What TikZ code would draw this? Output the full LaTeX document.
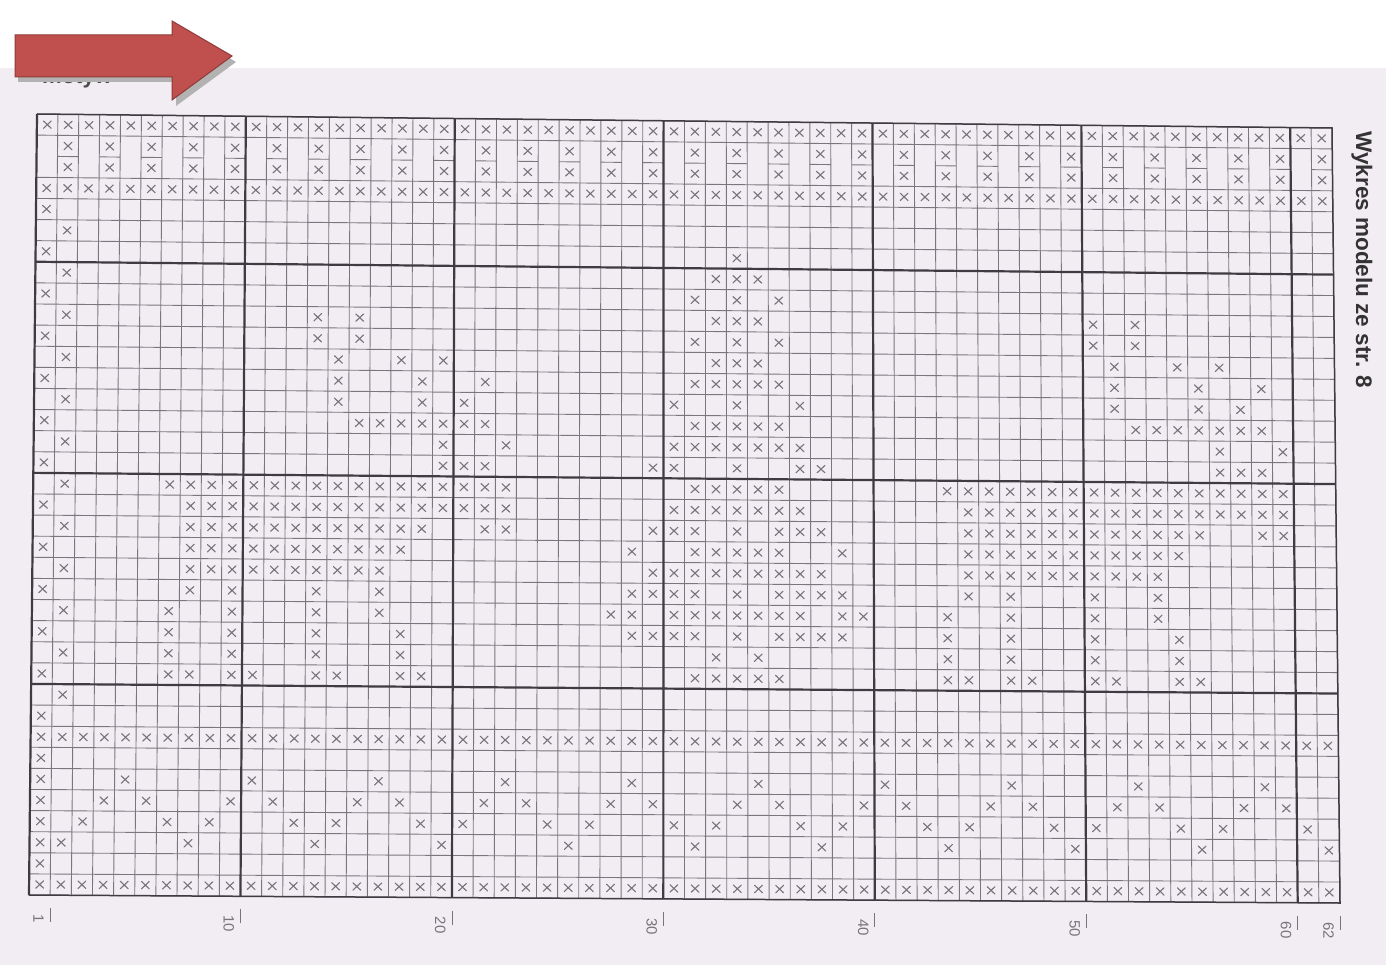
\documentclass[tikz,border=0pt]{standalone}
\usepackage{fontspec}
\setmainfont{Liberation Sans}
\definecolor{paper}{HTML}{F2EDF2}
\definecolor{gridc}{HTML}{7A767E}
\definecolor{thickc}{HTML}{3E3C42}
\definecolor{xc}{HTML}{77737C}
\definecolor{labc}{HTML}{77747B}
\definecolor{arrowred}{HTML}{C0504D}
\definecolor{arrowedge}{HTML}{8E3A38}
\def\TLx{37}\def\TLy{114}
\def\TRx{1332}\def\TRy{128}
\def\BLx{29}\def\BLy{895}
\def\BRx{1340}\def\BRy{903}
\newcommand\bil[2]{%
 \pgfmathsetmacro\bx{(1-(#2))*((1-(#1))*\TLx+(#1)*\TRx)+(#2)*((1-(#1))*\BLx+(#1)*\BRx)}%
 \pgfmathsetmacro\by{(1-(#2))*((1-(#1))*\TLy+(#1)*\TRy)+(#2)*((1-(#1))*\BLy+(#1)*\BRy)}}
\newcommand\xat[2]{%
 \bil{(#1-0.5)/62}{(#2-0.5)/37}%
 \draw[xs] (\bx-3.9,\by-3.7) -- (\bx+3.9,\by+3.7) (\bx-3.9,\by+3.7) -- (\bx+3.9,\by-3.7);}
\newcommand\xrow[2]{\foreach \cc in {#2}{\xat{\cc}{#1}}}
\newcommand\xrowd[2]{\foreach \cc in {#2}{\xat{\cc}{#1}\pgfmathtruncatemacro\cd{\cc+37}\xat{\cd}{#1}}}
\tikzset{
 gl/.style={draw=gridc, line width=0.9pt},
 tl/.style={draw=thickc, line width=2.2pt},
 bl/.style={draw=thickc, line width=1.5pt},
 xs/.style={draw=xc, line width=1.1pt, line cap=round},
 lab/.style={text=labc, font=\fontsize{15}{15}\selectfont, rotate=-90, inner sep=0pt},
}
\begin{document}
\begin{tikzpicture}[x=1pt,y=-1pt]
\useasboundingbox (0,0) rectangle (1386,965);
\fill[paper] (0,0) rectangle (1386,965);
\fill[white] (0,0) rectangle (1386,68);
% ---- grid lines
\foreach \c in {0,...,62}{
  \bil{\c/62}{0}\let\ax\bx\let\ay\by
  \bil{\c/62}{1}
  \draw[gl] (\ax,\ay) -- (\bx,\by);
}
\foreach \r in {0,1,3,4,5,...,37}{
  \bil{0}{\r/37}\let\ax\bx\let\ay\by
  \bil{1}{\r/37}
  \draw[gl] (\ax,\ay) -- (\bx,\by);
}
\foreach \c in {2,4,...,62}{
  \bil{(\c-1)/62}{2/37}\let\ax\bx\let\ay\by
  \bil{\c/62}{2/37}
  \draw[gl] (\ax,\ay) -- (\bx,\by);
}
\foreach \c in {0,10,20,30,40,50,60}{
  \bil{\c/62}{0}\let\ax\bx\let\ay\by
  \bil{\c/62}{1}
  \draw[tl] (\ax,\ay) -- (\bx,\by);
}
\foreach \r in {7,17,27}{
  \bil{0}{\r/37}\let\ax\bx\let\ay\by
  \bil{1}{\r/37}
  \draw[tl] (\ax,\ay) -- (\bx,\by);
}
\draw[bl] (\TLx,\TLy) -- (\TRx,\TRy) -- (\BRx,\BRy) -- (\BLx,\BLy);
% ---- border rows
\foreach \r in {1,4,30,37}{\xrow{\r}{1,...,62}}
\foreach \r in {2,3}{\xrow{\r}{2,4,...,62}}
\foreach \r in {5,7,...,29}{\xat{1}{\r}}
\foreach \r in {6,8,...,28}{\xat{2}{\r}}
\foreach \r in {31,...,36}{\xat{1}{\r}}
\xrow{32}{5,11,...,59}
\xrow{33}{4,6,10,12,16,18,22,24,28,30,34,36,40,42,46,48,52,54,58,60}
\xrow{34}{3,7,9,13,15,19,21,25,27,31,33,37,39,43,45,49,51,55,57,61}
\xrow{35}{2,8,...,62}
% ---- bird + horse (left, and copy 37 columns to the right)
\xrowd{10}{14,16}
\xrowd{11}{14,16}
\xrowd{12}{15,18,20}
\xrowd{13}{15,19,22}
\xrowd{14}{15,19,21}
\xrowd{15}{16,...,22}
\xrowd{16}{20,23}
\xrowd{17}{20,21,22}
\xrowd{18}{7,...,23}
\xrowd{19}{8,...,23}
\xrowd{20}{8,...,19,22,23}
\xrowd{21}{8,...,18}
\xrowd{22}{8,...,17}
\xrowd{23}{8,10,14,17}
\xrowd{24}{7,10,14,17}
\xrowd{25}{7,10,14,18}
\xrowd{26}{7,10,14,18}
\xrowd{27}{7,8,10,11,14,15,18,19}
% ---- central figure
\xrow{7}{34}
\xrow{8}{33,34,35}
\xrow{9}{32,34,36}
\xrow{10}{33,34,35}
\xrow{11}{32,34,36}
\xrow{12}{33,34,35}
\xrow{13}{32,...,36}
\xrow{14}{31,34,37}
\xrow{15}{32,...,36}
\xrow{16}{31,...,37}
\xrow{17}{30,31,34,37,38}
\xrow{18}{32,...,36}
\xrow{19}{31,...,37}
\xrow{20}{30,31,32,34,36,37,38}
\xrow{21}{29,32,33,34,35,36,39}
\xrow{22}{30,...,38}
\xrow{23}{29,30,31,32,34,36,37,38,39}
\xrow{24}{28,29,31,32,33,34,35,36,37,39,40}
\xrow{25}{29,30,31,32,34,36,37,38,39}
\xrow{26}{33,35}
\xrow{27}{32,...,36}
% ---- column numbers
\foreach \k in {1,10,20,30,40,50,60,62}{
  \bil{(\k-0.5)/62}{1}
  \node[lab, anchor=west] (n\k) at (\bx-1,\by+19) {\k};
  \bil{\k/62}{1}
  \draw[draw=labc, line width=0.7pt] (\bx,\by+13) -- (\bx,\by+27);
}
% ---- title
\node[rotate=-90, font=\bfseries\fontsize{22.5}{22.5}\selectfont, text=black!80] (title) at (1362,260) {Wykres modelu ze str. 8};
% ---- heading partly hidden under the arrow
\node[anchor=base west, font=\bfseries\fontsize{22}{22}\selectfont, text=black!70, inner sep=0pt] (head) at (42,84) {motyw};
% ---- red arrow
\fill[gray!60] (18,40) -- (176,40) -- (176,26) -- (236,62) -- (176,106) -- (176,82) -- (18,82) -- cycle;
\filldraw[fill=arrowred, draw=arrowedge, line width=1pt] (15,35) -- (172,35) -- (172,21) -- (232,56) -- (172,100) -- (172,77) -- (15,77) -- cycle;
\end{tikzpicture}
\end{document}
